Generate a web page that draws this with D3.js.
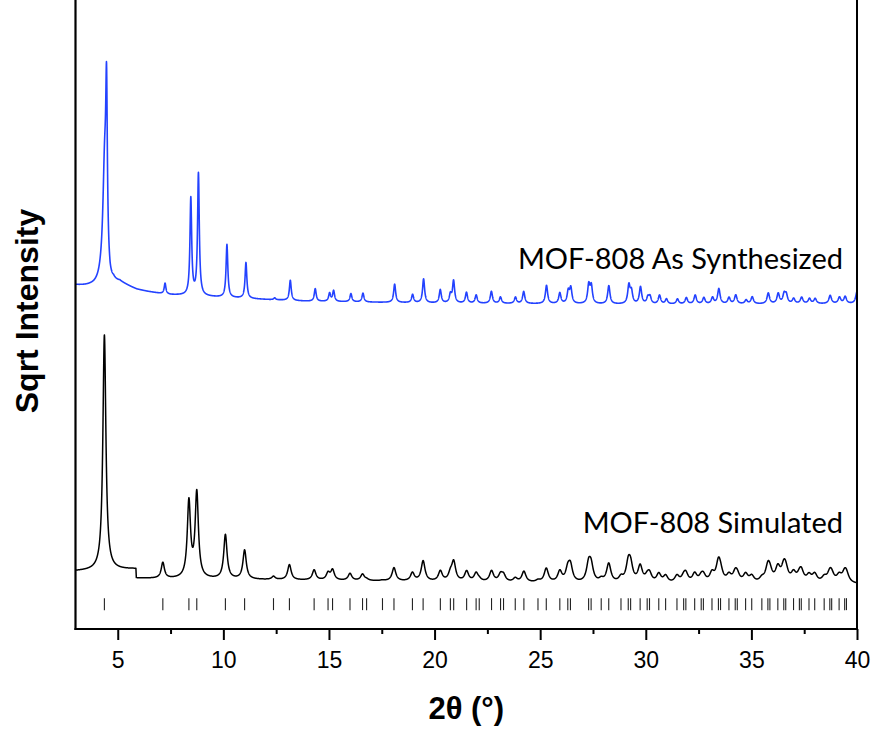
<!DOCTYPE html>
<html>
<head>
<meta charset="utf-8">
<script src="https://cdn.jsdelivr.net/npm/d3@7/dist/d3.min.js"></script>
<style>
body { margin: 0; background: #fff; }
</style>
</head>
<body>
<div id="chart"></div>
<script>
var width = 875;
var height = 731;
var margin = { top: 0, right: 18, bottom: 102, left: 75.5 };

// axis ticks
var majorTicks = [5, 10, 15, 20, 25, 30, 35, 40];
var minorTicks = [7.5, 12.5, 17.5, 22.5, 27.5, 32.5, 37.5];

// simulated reflection positions (2theta, deg) - also the tick row
var reflections = [4.368, 7.135, 8.369, 8.742, 10.097, 11.006, 12.374, 13.128, 14.298, 14.957,
    15.170, 15.996, 16.589, 16.782, 17.534, 18.078, 18.952, 19.458, 20.274, 20.749,
    20.905, 21.518, 21.967, 22.115, 22.697, 23.124, 23.265, 23.820, 24.229, 24.896,
    25.289, 25.930, 26.308, 26.433, 27.293, 27.412, 27.890, 28.246, 28.826, 29.170,
    29.282, 29.733, 30.066, 30.176, 30.615, 30.939, 31.476, 31.793, 31.897, 32.315,
    32.624, 32.727, 33.134, 33.439, 33.539, 33.937, 34.235, 34.332, 34.726, 35.016,
    35.495, 35.781, 35.876, 36.252, 36.533, 36.626, 36.995, 37.272, 37.362, 37.727,
    37.998, 38.446, 38.713, 38.801, 39.153, 39.416, 39.501];

// simulated peak heights (sqrt intensity, a.u.), one per reflection
var simHeights = [37.4, 2.5, 12.1, 13.5, 7.0, 4.6, 0.5, 2.4, 1.6, 1.1,
    1.6, 1.1, 1.0, 0.2, 0.1, 2.1, 1.3, 3.2, 1.6, 1.1,
    3.0, 1.6, 1.3, 0.3, 1.7, 1.1, 1.0, 0.6, 1.7, 0.3,
    2.2, 1.7, 1.9, 2.4, 2.7, 2.4, 0.5, 3.0, 0.8, 2.8,
    2.4, 2.6, 0.8, 1.3, 1.4, 1.1, 1.1, 0.8, 1.3, 1.4,
    0.8, 1.0, 1.4, 3.0, 1.3, 1.1, 1.4, 1.0, 1.3, 1.0,
    0.6, 2.3, 1.3, 2.2, 2.1, 1.6, 1.4, 0.8, 1.6, 1.1,
    1.3, 0.8, 1.4, 1.0, 1.1, 1.4, 1.1];

// simulated background (2theta, level)
var simBgX = [3.0, 5.86, 5.88, 10, 20, 30, 40];
var simBgY = [9.2, 9.5, 8.0, 7.9, 7.5, 7.1, 7.1];

// as-synthesized peaks
var expPos = [4.47, 7.24, 8.46, 8.82, 10.17, 11.07, 12.43, 13.17, 14.35, 15.03,
    15.22, 16.04, 16.61, 18.11, 18.96, 19.48, 20.27, 20.75, 20.90, 21.51,
    21.97, 22.69, 23.12, 23.83, 24.22, 25.30, 25.93, 26.33, 26.45, 27.30,
    27.42, 28.25, 29.20, 29.32, 29.75, 30.10, 30.20, 30.65, 30.98, 31.50,
    31.92, 32.34, 32.75, 33.16, 33.46, 33.94, 34.26, 34.75, 35.04, 35.80,
    36.27, 36.55, 36.65, 37.00, 37.38, 37.75, 38.02, 38.73, 39.17, 39.44, 40.00];
var expHeights = [25.0, 1.7, 15.4, 19.4, 8.4, 5.7, 0.3, 3.2, 2.0, 1.3,
    1.7, 1.3, 1.4, 2.9, 1.3, 3.8, 2.1, 1.3, 3.5, 1.7,
    1.3, 1.9, 1.0, 1.0, 1.9, 2.9, 1.7, 1.9, 2.4, 2.9,
    2.7, 2.9, 2.9, 1.9, 2.7, 1.0, 1.1, 1.4, 0.8, 0.8,
    1.0, 1.4, 1.0, 1.0, 2.4, 1.0, 1.4, 0.6, 1.1, 1.7,
    1.6, 1.4, 1.3, 0.8, 1.0, 0.8, 0.8, 1.3, 1.0, 1.1, 1.9];
// low-angle foot under the first as-synthesized peak
var expFootPos = [4.38, 4.36];
var expFootHeights = [17, 2];
var expFootWidths = [0.1, 0.3];

var expBgX = [3.0, 3.7, 4.08, 4.4, 4.64, 4.8, 5.1, 5.4, 5.9, 6.4, 7.0, 7.5, 9, 12, 14, 20, 30, 40];
var expBgY = [54.6, 54.3, 54.0, 54.0, 53.4, 54.4, 54.8, 54.5, 53.9, 53.6, 53.3, 53.1, 52.86, 52.38, 52.1, 51.8, 51.6, 51.7];

var labels = ["MOF-808 As Synthesized", "MOF-808 Simulated"];
var labelLevels = [57.3, 15.2];

var svg = d3.select("#chart")
    .append("svg")
    .attr("width", width)
    .attr("height", height)

var x = d3.scaleLinear().domain([3, 40]).range([margin.left, width - margin.right]);
var y = d3.scaleLinear().domain([0, 100]).range([height - margin.bottom, 0]);

/*
    background = straight segments between read points,
    peaks = lorentzian profiles on top
*/
function background(t, bx, by) {
    for (var i = 1; i < bx.length; i++) {
        if (t <= bx[i]) {
            var f = (t - bx[i - 1]) / (bx[i] - bx[i - 1]);
            return by[i - 1] + f * (by[i] - by[i - 1]);
        }
    }
    return by[by.length - 1];
}

function lor(t, p, h, w) {
    var d = t - p;
    return h * w * w / (w * w + d * d);
}

var grid = d3.range(3, 40.0001, 0.005);

var simData = grid.map(function (t) {
    var v = background(t, simBgX, simBgY);
    for (var i = 0; i < reflections.length; i++) {
        v += lor(t, reflections[i], simHeights[i], 0.085 + 0.0015 * (reflections[i] - 4));
    }
    return [t, v];
});

var expData = grid.map(function (t) {
    var v = background(t, expBgX, expBgY);
    for (var i = 0; i < expPos.length; i++) {
        v += lor(t, expPos[i], expHeights[i], 0.045 + 0.0008 * (expPos[i] - 4));
    }
    for (var j = 0; j < expFootPos.length; j++) {
        v += lor(t, expFootPos[j], expFootHeights[j], expFootWidths[j]);
    }
    return [t, v];
});

var line = d3.line()
    .x(function (d) { return x(d[0]); })
    .y(function (d) { return y(d[1]); });

svg.append("path")
    .datum(expData)
    .attr("fill", "none")
    .attr("stroke", "#2342ff")
    .attr("stroke-width", 1.6)
    .attr("stroke-linejoin", "round")
    .attr("d", line);

svg.append("path")
    .datum(simData)
    .attr("fill", "none")
    .attr("stroke", "#000")
    .attr("stroke-width", 1.5)
    .attr("stroke-linejoin", "round")
    .attr("d", line);

// reflection tick row
svg.selectAll(".refl")
    .data(reflections)
    .enter().append("line")
    .attr("class", "refl")
    .attr("x1", function (d) { return x(d); })
    .attr("x2", function (d) { return x(d); })
    .attr("y1", y(4.9))
    .attr("y2", y(3.0))
    .attr("stroke", "#222")
    .attr("stroke-width", 1.1);

// frame
var x0 = x(3), x1 = x(40), yb = y(0);
svg.append("line").attr("x1", x0).attr("x2", x0).attr("y1", 0).attr("y2", yb + 1)
    .attr("stroke", "#000").attr("stroke-width", 2.2);
svg.append("line").attr("x1", x1).attr("x2", x1).attr("y1", 0).attr("y2", yb + 1)
    .attr("stroke", "#000").attr("stroke-width", 2);

// axes
var xAxis = svg.append("g")
    .attr("transform", "translate(0," + yb + ")")
    .call(d3.axisBottom(x).tickValues(majorTicks).tickSize(11).tickPadding(12).tickFormat(d3.format("d")));
xAxis.select(".domain").remove();
xAxis.selectAll(".tick line").attr("stroke-width", 2);
xAxis.selectAll("text")
    .attr("font-family", "'Liberation Sans', Arial, sans-serif")
    .attr("font-size", 23)
    .attr("fill", "#000");

var xMinor = svg.append("g")
    .attr("transform", "translate(0," + yb + ")")
    .call(d3.axisBottom(x).tickValues(minorTicks).tickSize(5).tickFormat(""));
xMinor.select(".domain").remove();
xMinor.selectAll(".tick line").attr("stroke-width", 2);

svg.append("line").attr("x1", x0 - 1).attr("x2", x1 + 1).attr("y1", yb).attr("y2", yb)
    .attr("stroke", "#000").attr("stroke-width", 2.2);

// axis titles
svg.append("text")
    .attr("x", (x0 + x1) / 2)
    .attr("y", 719)
    .attr("text-anchor", "middle")
    .attr("font-family", "'Liberation Sans', Arial, sans-serif")
    .attr("font-weight", "bold")
    .attr("font-size", 31)
    .text("2θ (°)");

svg.append("text")
    .attr("transform", "translate(38," + 311 + ") rotate(-90)")
    .attr("text-anchor", "middle")
    .attr("font-family", "'Liberation Sans', Arial, sans-serif")
    .attr("font-weight", "bold")
    .attr("font-size", 32)
    .text("Sqrt Intensity");

// series labels
svg.selectAll(".series-label")
    .data(labels)
    .enter().append("text")
    .attr("class", "series-label")
    .attr("x", 843)
    .attr("y", function (d, i) { return y(labelLevels[i]); })
    .attr("text-anchor", "end")
    .attr("font-family", "Lato, 'Open Sans', sans-serif")
    .attr("font-size", 29)
    .attr("fill", "#000")
    .text(function (d) { return d; });
</script>
</body>
</html>
